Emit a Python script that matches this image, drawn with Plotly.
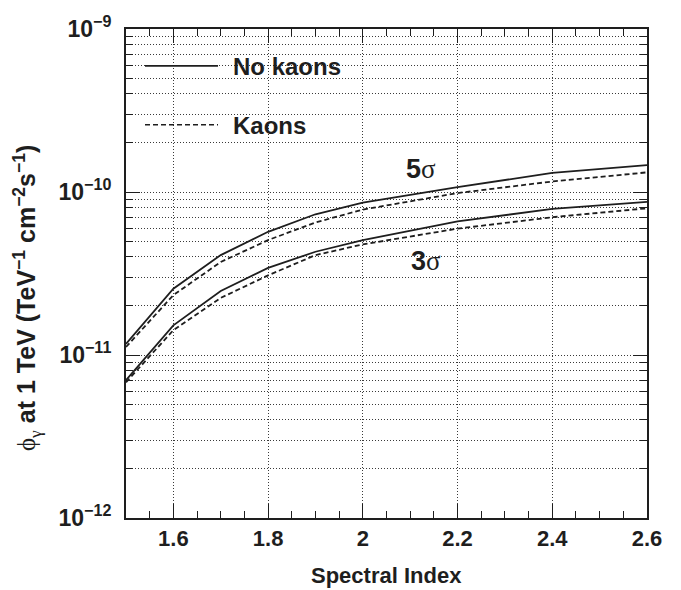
import plotly.graph_objects as go

# Spectral index grid where the sensitivity was evaluated
spectral_index = [1.5, 1.6, 1.7, 1.8, 1.9, 2.0, 2.2, 2.4, 2.6]

# Minimum detectable flux at 1 TeV (TeV^-1 cm^-2 s^-1)
flux_5sigma_no_kaons = [1.17e-11, 2.55e-11, 4.1e-11, 5.7e-11, 7.3e-11, 8.6e-11, 1.07e-10, 1.31e-10, 1.46e-10]
flux_5sigma_kaons = [1.12e-11, 2.33e-11, 3.72e-11, 5.07e-11, 6.5e-11, 7.8e-11, 9.85e-11, 1.16e-10, 1.32e-10]
flux_3sigma_no_kaons = [7.0e-12, 1.52e-11, 2.47e-11, 3.42e-11, 4.3e-11, 5.07e-11, 6.6e-11, 7.87e-11, 8.7e-11]
flux_3sigma_kaons = [6.8e-12, 1.42e-11, 2.24e-11, 3.08e-11, 4.1e-11, 4.77e-11, 5.96e-11, 7.0e-11, 7.94e-11]

ytick_vals = [1e-12, 1e-11, 1e-10, 1e-9]
ytick_text = ["10<sup>\u221212</sup>", "10<sup>\u221211</sup>", "10<sup>\u221210</sup>", "10<sup>\u22129</sup>"]
yminor_vals = [m * 10.0 ** e for e in (-12, -11, -10) for m in range(2, 10)]

INK = "#1e1e1e"
GRID = "#3a3a3a"
GRID_DASH = "1px,2px"
FONT = "Liberation Sans, Arial, Helvetica, sans-serif"

# Plot area in pixels (used to place the overlay text and legend)
W, H = 681, 590
L, R, T, B = 126, 34, 20, 72
PW, PH = W - L - R, H - T - B


def px(x):
    return (x - L) / PW


def py(y):
    return (H - B - y) / PH


fig = go.Figure()

series = [
    (flux_5sigma_no_kaons, "solid"),
    (flux_5sigma_kaons, "5px,3px"),
    (flux_3sigma_no_kaons, "solid"),
    (flux_3sigma_kaons, "5px,3px"),
]
for values, dash in series:
    fig.add_trace(go.Scatter(
        x=spectral_index, y=values, mode="lines",
        line=dict(color=INK, width=1.8, dash=dash),
        showlegend=False, hoverinfo="skip",
    ))

# Legend drawn as line samples plus labels
fig.add_shape(type="line", xref="paper", yref="paper",
              x0=px(145), x1=px(218), y0=py(57.5), y1=py(57.5),
              line=dict(color=INK, width=1.8))
fig.add_shape(type="line", xref="paper", yref="paper",
              x0=px(145), x1=px(218), y0=py(117.5), y1=py(117.5),
              line=dict(color=INK, width=1.5, dash="5px,3px"))

bold = dict(family=FONT, size=24, color=INK, weight="bold")
fig.add_annotation(text="No kaons", xref="paper", yref="paper",
                   x=px(231), y=py(58), xanchor="left", yanchor="middle",
                   showarrow=False, font=bold)
fig.add_annotation(text="Kaons", xref="paper", yref="paper",
                   x=px(231), y=py(118), xanchor="left", yanchor="middle",
                   showarrow=False, font=bold)

sig = "<span style=\"font-family:'Liberation Serif';font-weight:normal\">\u03c3</span>"
fig.add_annotation(text="5" + sig, xref="paper", yref="paper",
                   x=px(421), y=py(163), xanchor="center", yanchor="middle",
                   showarrow=False, font=dict(family=FONT, size=27, color=INK, weight="bold"))
fig.add_annotation(text="3" + sig, xref="paper", yref="paper",
                   x=px(426), y=py(256), xanchor="center", yanchor="middle",
                   showarrow=False, font=dict(family=FONT, size=27, color=INK, weight="bold"))

# Axis titles
fig.add_annotation(text="Spectral Index", xref="paper", yref="paper",
                   x=0.5, y=py(577), xanchor="center", yanchor="middle",
                   showarrow=False, font=dict(family=FONT, size=22, color=INK, weight="bold"))
phi = "<span style=\"font-family:'Liberation Serif';font-weight:normal\">\u03d5</span>"
gam = "<span style=\"font-family:'Liberation Serif';font-weight:normal\">\u03b3</span>"
fig.add_annotation(
    text=phi + "<sub>" + gam + "</sub> at 1 TeV (TeV<sup>\u22121</sup> cm<sup>\u22122</sup>s<sup>\u22121</sup>)",
    xref="paper", yref="paper", x=px(27), y=py(294), xanchor="center", yanchor="middle",
    textangle=-90, showarrow=False,
    font=dict(family=FONT, size=25, color=INK, weight="bold"))

fig.update_layout(
    width=W, height=H,
    margin=dict(l=L, r=R, t=T, b=B, pad=0),
    paper_bgcolor="white", plot_bgcolor="white",
    font=dict(family=FONT, color=INK),
    xaxis=dict(
        range=[1.5, 2.6], tick0=1.6, dtick=0.2,
        ticks="inside", ticklen=14, tickwidth=1.3, tickcolor=INK,
        showline=True, linecolor=INK, linewidth=2, mirror="allticks",
        showgrid=True, gridcolor=GRID, gridwidth=1, griddash=GRID_DASH,
        zeroline=False,
        tickfont=dict(family=FONT, size=22, color=INK, weight="bold"),
        ticklabelstandoff=0,
        minor=dict(dtick=0.05, ticks="inside", ticklen=7, tickwidth=1.3,
                   tickcolor=INK, showgrid=False),
    ),
    yaxis=dict(
        type="log", range=[-12, -9],
        tickmode="array", tickvals=ytick_vals, ticktext=ytick_text,
        ticks="inside", ticklen=14, tickwidth=1.3, tickcolor=INK,
        showline=True, linecolor=INK, linewidth=2, mirror="allticks",
        showgrid=True, gridcolor=GRID, gridwidth=1, griddash=GRID_DASH,
        zeroline=False,
        tickfont=dict(family=FONT, size=23, color=INK, weight="bold"),
        ticklabelstandoff=8,
        minor=dict(tickmode="array", tickvals=yminor_vals, ticks="inside",
                   ticklen=7, tickwidth=1.3, tickcolor=INK,
                   showgrid=True, gridcolor=GRID, gridwidth=1, griddash=GRID_DASH),
    ),
)

fig.write_html("out.html")
